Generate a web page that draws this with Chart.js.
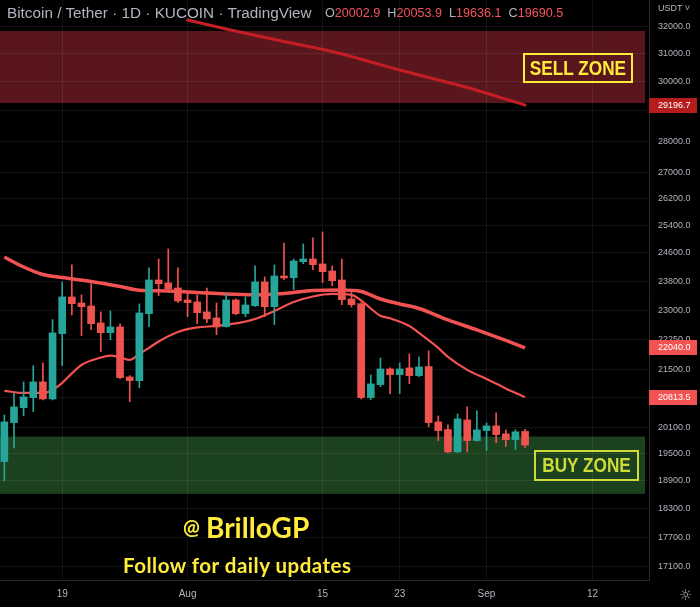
<!DOCTYPE html>
<html>
<head>
<meta charset="utf-8">
<script src="https://cdn.jsdelivr.net/npm/chart.js@4.4.1/dist/chart.umd.min.js"></script>
<style>
  html, body { margin: 0; padding: 0; background: #000; }
  #wrap { position: relative; width: 700px; height: 607px; overflow: hidden; background: #000; }
  #chart { position: absolute; left: 0; top: 0; }
  .t { position: absolute; white-space: nowrap; line-height: 1; }
  #title { left: 7px; top: 4px; font: 15.3px "Liberation Sans", Arial, sans-serif; color: #b2b5be; }
  #ohlc { left: 325px; top: 6px; font: 12.6px "Liberation Sans", Arial, sans-serif; color: #b2b5be; }
  #ohlc span.v { color: #f7525f; margin-right: 7px; }
  #usdt { left: 658px; top: 3px; font: 9px "Liberation Sans", Arial, sans-serif; color: #b2b5be; }
  .zone { position: absolute; box-sizing: border-box; border: 2px solid; display: flex; align-items: center; justify-content: center;
          white-space: nowrap; font: bold 20px "Liberation Sans", Arial, sans-serif; }
  .zone span { display: inline-block; transform: scaleX(0.86); }
  #sell { left: 523px; top: 53px; width: 110px; height: 30px; color: #ffeb3b; border-color: #ffeb3b; }
  #buy { left: 534px; top: 450px; width: 105px; height: 31px; color: #cddc39; border-color: #cddc39; }
  #at { left: 183px; top: 514px; font: bold 20px Lato, sans-serif; color: #ffeb3b; }
  #handle { left: 206px; top: 510px; font: bold 28px Lato, sans-serif; color: #ffeb3b; }
  #follow { left: 123px; top: 553px; font: bold 20.5px Lato, sans-serif; letter-spacing: 0.5px; color: #ffeb3b; }
  #gear { left: 679px; top: 586px; font: 15px "DejaVu Sans", sans-serif; color: #b2b5be; }
</style>
</head>
<body>
<div id="wrap">
  <canvas id="chart" width="700" height="607"></canvas>
  <div class="t" id="title">Bitcoin / Tether · 1D · KUCOIN · TradingView</div>
  <div class="t" id="ohlc"></div>
  <div class="t" id="usdt">USDT ˅</div>
  <div class="zone" id="sell"><span>SELL ZONE</span></div>
  <div class="zone" id="buy"><span>BUY ZONE</span></div>
  <div class="t" id="at">@</div>
  <div class="t" id="handle">BrilloGP</div>
  <div class="t" id="follow">Follow for daily updates</div>
  <div class="t" id="gear">☼</div>
</div>
<script>
// daily candles, BTC/USDT, starting 2022-07-13
const startDate = '2022-07-13';
const opens  = [19317, 20210, 20563, 20804, 21185, 20772, 22405, 23378, 23215, 23134, 22684, 22431, 22579, 21308, 21217, 22930, 23842, 23760, 23622, 23296, 23242, 22975, 22816, 22587, 23296, 22930, 23142, 23787, 23115, 23953, 23906, 24353, 24429, 24289, 24092, 23842, 23323, 23196, 20804, 21119, 21507, 21365, 21532, 21341, 21565, 20226, 20047, 19536, 20273, 19793, 20024, 20133, 19948, 19816, 20002.9];
const highs  = [20390, 20910, 21185, 21590, 21657, 22771, 23787, 24261, 23432, 23740, 22975, 23001, 22658, 21341, 23188, 24177, 24429, 24714, 24177, 23505, 23432, 23622, 23215, 23459, 23323, 23378, 24233, 23925, 24261, 24887, 24429, 24858, 25032, 25206, 24233, 24429, 23522, 23220, 21358, 21782, 21532, 21657, 21883, 21807, 21960, 20367, 20156, 20414, 20580, 20485, 20203, 20438, 20040, 20040, 20053.9];
const lows   = [18890, 19626, 20374, 20469, 20748, 20748, 21590, 22895, 22353, 22509, 21942, 22249, 21266, 20707, 21045, 22587, 23413, 23505, 23223, 22850, 22666, 22692, 22379, 22570, 22903, 22850, 23120, 22850, 22639, 23850, 23576, 24297, 24128, 23768, 23686, 23168, 23107, 20772, 20756, 21070, 20900, 20900, 21143, 21316, 20116, 19793, 19513, 19520, 19536, 19780, 19565, 19747, 19656, 19588, 19636.1];
const closes = [20226, 20580, 20821, 21185, 20772, 22423, 23378, 23196, 23115, 22666, 22431, 22579, 21291, 21217, 22948, 23842, 23740, 23603, 23269, 23223, 22956, 22790, 22579, 23296, 22930, 23161, 23787, 23115, 23953, 23898, 24373, 24429, 24269, 24073, 23823, 23305, 23169, 20804, 21136, 21507, 21365, 21507, 21341, 21557, 20210, 20024, 19536, 20296, 19793, 20040, 20133, 19931, 19816, 19994, 19690.5];

// moving averages: [day index, price]
const maSlow = [[0, 24485], [2, 24204], [4, 23994], [6, 23911], [9, 23801], [12, 23663], [14, 23560], [17, 23541], [20, 23500], [23, 23459], [26, 23440], [29, 23473], [32, 23554], [35, 23568], [37, 23527], [39, 23323], [41, 23188], [43, 23067], [46, 22763], [49, 22501], [52, 22229], [54, 22040]];
const maFast = [[0, 20966], [2, 20917], [4, 20917], [5, 20990], [6, 21160], [7, 21395], [8, 21606], [10, 21795], [11, 21840], [12, 21800], [13, 21732], [14, 21884], [15, 22037], [16, 22203], [18, 22449], [20, 22566], [22, 22605], [24, 22671], [26, 22789], [28, 23001], [30, 23242], [32, 23391], [34, 23459], [36, 23432], [37, 23282], [38, 23067], [39, 22871], [40, 22808], [42, 22605], [43, 22423], [45, 22037], [46, 21807], [48, 21482], [50, 21258], [52, 21026], [54, 20813.5]];
const maLong = [[19, 32223], [23, 31889], [28, 31503], [34, 31068], [41, 30409], [48, 29798], [54, 29196.7]];

const sellZone = [29268, 31815];
const buyZone = [18608, 19885];

const yTicks = [32000, 31000, 30000, 29000, 28000, 27000, 26200, 25400, 24600, 23800, 23000, 22250, 21500, 20800, 20100, 19500, 18900, 18300, 17700, 17100];
const xTickDates = ['2022-07-19', '2022-08-01', '2022-08-15', '2022-08-23', '2022-09-01', '2022-09-12'];
const xTickText = ['19', 'Aug', '15', '23', 'Sep', '12'];

const UP = '#26a69a', DOWN = '#ef5350';
const dayIndex = d => Math.round((Date.parse(d) - Date.parse(startDate)) / 864e5);
const xTicks = xTickDates.map(dayIndex);
const last = opens.length - 1;

// header legend
const fmt = v => v.toFixed(1);
document.getElementById('ohlc').innerHTML =
    `O<span class="v">${fmt(opens[last])}</span>H<span class="v">${fmt(highs[last])}</span>` +
    `L<span class="v">${fmt(lows[last])}</span>C<span class="v">${fmt(closes[last])}</span>`;

const candleColors = opens.map((o, i) => closes[i] >= o ? UP : DOWN);
const wickData = opens.map((o, i) => ({ x: i, y: [lows[i], highs[i]] }));
const bodyData = opens.map((o, i) => ({ x: i, y: [o, closes[i]] }));
const toXY = arr => arr.map(p => ({ x: p[0], y: p[1] }));

const gridColor = 'rgba(255,255,255,0.07)';
const axisText = '#b2b5be';

Chart.defaults.font.family = '"Liberation Sans", Arial, sans-serif';

// zones sit behind the grid
const zonesPlugin = {
    id: 'zones',
    beforeDraw(chart) {
        const { ctx, chartArea: a, scales: { y } } = chart;
        ctx.save();
        const right = a.right - 4;
        ctx.fillStyle = 'rgba(150,36,48,0.6)';
        let top = y.getPixelForValue(sellZone[1]), bot = y.getPixelForValue(sellZone[0]);
        ctx.fillRect(a.left, top, right - a.left, bot - top);
        ctx.fillStyle = 'rgba(46,108,50,0.6)';
        top = y.getPixelForValue(buyZone[1]); bot = y.getPixelForValue(buyZone[0]);
        ctx.fillRect(a.left, top, right - a.left, bot - top);
        ctx.restore();
    }
};

// last-value tags on the price scale
const tagsPlugin = {
    id: 'tags',
    afterDraw(chart) {
        const { ctx, chartArea: a, scales: { y } } = chart;
        const tags = [
            { v: maLong[maLong.length - 1][1], c: '#b71c1c' },
            { v: maSlow[maSlow.length - 1][1], c: '#f25252' },
            { v: maFast[maFast.length - 1][1], c: '#f25252' }
        ];
        ctx.save();
        ctx.font = '9px "Liberation Sans", Arial, sans-serif';
        ctx.textBaseline = 'middle';
        tags.forEach(t => {
            const py = y.getPixelForValue(t.v);
            ctx.fillStyle = t.c;
            ctx.fillRect(a.right, Math.round(py - 7.5), 48, 15);
            ctx.fillStyle = '#fff';
            ctx.fillText(t.v.toFixed(1), a.right + 9, py);
        });
        ctx.restore();
    }
};

new Chart(document.getElementById('chart'), {
    type: 'bar',
    data: {
        datasets: [
            { type: 'line', data: toXY(maLong), borderColor: '#c41e24', borderWidth: 3, pointRadius: 0, cubicInterpolationMode: 'monotone', borderCapStyle: 'round', order: 3 },
            { type: 'line', data: toXY(maSlow), borderColor: '#f25252', borderWidth: 3.5, pointRadius: 0, cubicInterpolationMode: 'monotone', order: 3 },
            { type: 'line', data: toXY(maFast), borderColor: '#f25252', borderWidth: 2.2, pointRadius: 0, cubicInterpolationMode: 'monotone', order: 3 },
            { data: wickData, backgroundColor: candleColors, barThickness: 1, grouped: false, order: 2 },
            { data: bodyData, backgroundColor: candleColors, barThickness: 7, minBarLength: 1, grouped: false, order: 1 }
        ]
    },
    options: {
        responsive: false,
        animation: false,
        events: [],
        layout: { padding: 0 },
        plugins: { legend: { display: false }, tooltip: { enabled: false } },
        scales: {
            x: {
                type: 'linear',
                offset: false,
                min: -0.45,
                max: 66.85,
                bounds: 'data',
                afterBuildTicks: s => { s.ticks = xTicks.map(v => ({ value: v })); },
                afterFit: s => { s.height = 27; s.paddingLeft = 0; s.paddingRight = 0; },
                ticks: {
                    autoSkip: false, maxRotation: 0, padding: 8,
                    color: axisText, font: { size: 10 },
                    callback: (v, i) => xTickText[i]
                },
                grid: { color: gridColor, drawTicks: false, offset: false },
                border: { color: '#2a2a2a' }
            },
            y: {
                type: 'logarithmic',
                position: 'right',
                min: 16840,
                max: 32980,
                bounds: 'data',
                afterBuildTicks: s => { s.ticks = yTicks.map(v => ({ value: v })); },
                afterFit: s => { s.width = 51; s.paddingTop = 0; s.paddingBottom = 0; },
                ticks: {
                    autoSkip: false, padding: 9,
                    color: axisText, font: { size: 9 },
                    callback: v => Number(v).toFixed(1)
                },
                grid: { color: gridColor, drawTicks: false },
                border: { color: '#2a2a2a' }
            }
        }
    },
    plugins: [zonesPlugin, tagsPlugin]
});
</script>
</body>
</html>
